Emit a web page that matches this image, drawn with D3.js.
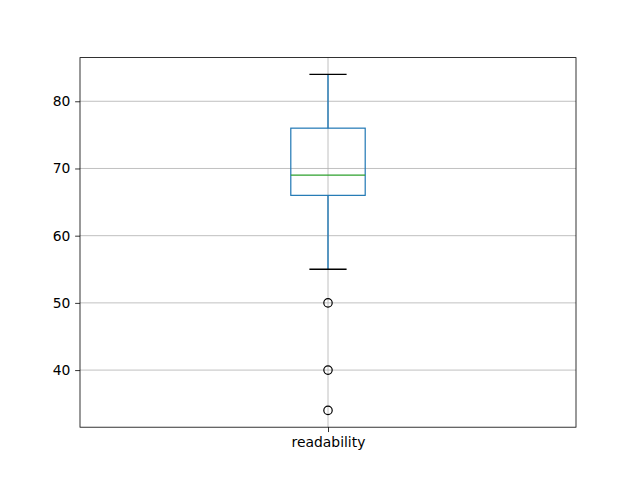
<!DOCTYPE html>
<html><head><meta charset="utf-8">
<script src="https://cdn.jsdelivr.net/npm/d3@7"></script>
<style>body{margin:0;background:#fff}svg{display:block}text{font-family:"DejaVu Sans",sans-serif}</style>
</head><body><svg id="c" width="640" height="480"></svg>
<script>
const categories = ["readability"];
const q1 = [66], median = [69], q3 = [76], whiskLow = [55], whiskHigh = [84];
const outliers = [[50, 40, 34]];
const yTicks = [40, 50, 60, 70, 80];

const W = 640, H = 480;
const m = {l: 80, r: 64, t: 57.6, b: 52.8};
const svg = d3.select("#c");
const x = d3.scaleLinear().domain([0.5, categories.length + 0.5]).range([m.l, W - m.r]);
const y = d3.scaleLinear().domain([31.5, 86.5]).range([H - m.b, m.t]);
const fs = 13.89;

const g = svg.append("g");
// grid
g.selectAll(".gy").data(yTicks).join("line")
  .attr("x1", m.l).attr("x2", W - m.r)
  .attr("y1", d => y(d)).attr("y2", d => y(d))
  .attr("stroke", "#b0b0b0").attr("stroke-width", 0.8);
g.selectAll(".gx").data(categories).join("line")
  .attr("x1", (d, i) => x(i + 1)).attr("x2", (d, i) => x(i + 1))
  .attr("y1", m.t).attr("y2", H - m.b)
  .attr("stroke", "#b0b0b0").attr("stroke-width", 0.8);

const bw = 0.15;
categories.forEach((c, i) => {
  const cx = x(i + 1), x0 = x(i + 1 - bw / 2), x1 = x(i + 1 + bw / 2);
  const cx0 = x(i + 1 - bw / 4), cx1 = x(i + 1 + bw / 4);
  // whiskers
  g.append("line").attr("x1", cx).attr("x2", cx).attr("y1", y(q1[i])).attr("y2", y(whiskLow[i])).attr("stroke", "#1f77b4").attr("stroke-width", 1.4);
  g.append("line").attr("x1", cx).attr("x2", cx).attr("y1", y(q3[i])).attr("y2", y(whiskHigh[i])).attr("stroke", "#1f77b4").attr("stroke-width", 1.4);
  // caps
  [whiskLow[i], whiskHigh[i]].forEach(v => g.append("line").attr("x1", cx0).attr("x2", cx1).attr("y1", y(v)).attr("y2", y(v)).attr("stroke", "#000").attr("stroke-width", 1.4));
  // box
  g.append("rect").attr("x", x0).attr("y", y(q3[i])).attr("width", x1 - x0).attr("height", y(q1[i]) - y(q3[i]))
    .attr("fill", "none").attr("stroke", "#1f77b4").attr("stroke-width", 1.2);
  // median
  g.append("line").attr("x1", x0).attr("x2", x1).attr("y1", y(median[i])).attr("y2", y(median[i])).attr("stroke", "#2ca02c").attr("stroke-width", 1.2);
  // fliers
  g.selectAll(null).data(outliers[i]).join("circle").attr("cx", cx).attr("cy", d => y(d)).attr("r", 4.2)
    .attr("fill", "none").attr("stroke", "#000").attr("stroke-width", 1.2);
});

// axes
const ya = svg.append("g").attr("transform", `translate(${m.l},0)`)
  .call(d3.axisLeft(y).tickValues(yTicks).tickSize(4.86).tickPadding(4.86));
const xa = svg.append("g").attr("transform", `translate(0,${H - m.b})`)
  .call(d3.axisBottom(x).tickValues(categories.map((d, i) => i + 1)).tickFormat((d, i) => categories[i]).tickSize(4.86).tickPadding(4.86));
[ya, xa].forEach(a => {
  a.select(".domain").remove();
  a.selectAll("line").attr("stroke", "#000").attr("stroke-width", 0.8);
  a.selectAll("text").attr("font-size", fs).attr("fill", "#000").attr("font-family", "DejaVu Sans");
});
svg.append("rect").attr("x", m.l).attr("y", m.t).attr("width", W - m.l - m.r).attr("height", H - m.t - m.b)
  .attr("fill", "none").attr("stroke", "#000").attr("stroke-width", 0.8);
</script></body></html>
